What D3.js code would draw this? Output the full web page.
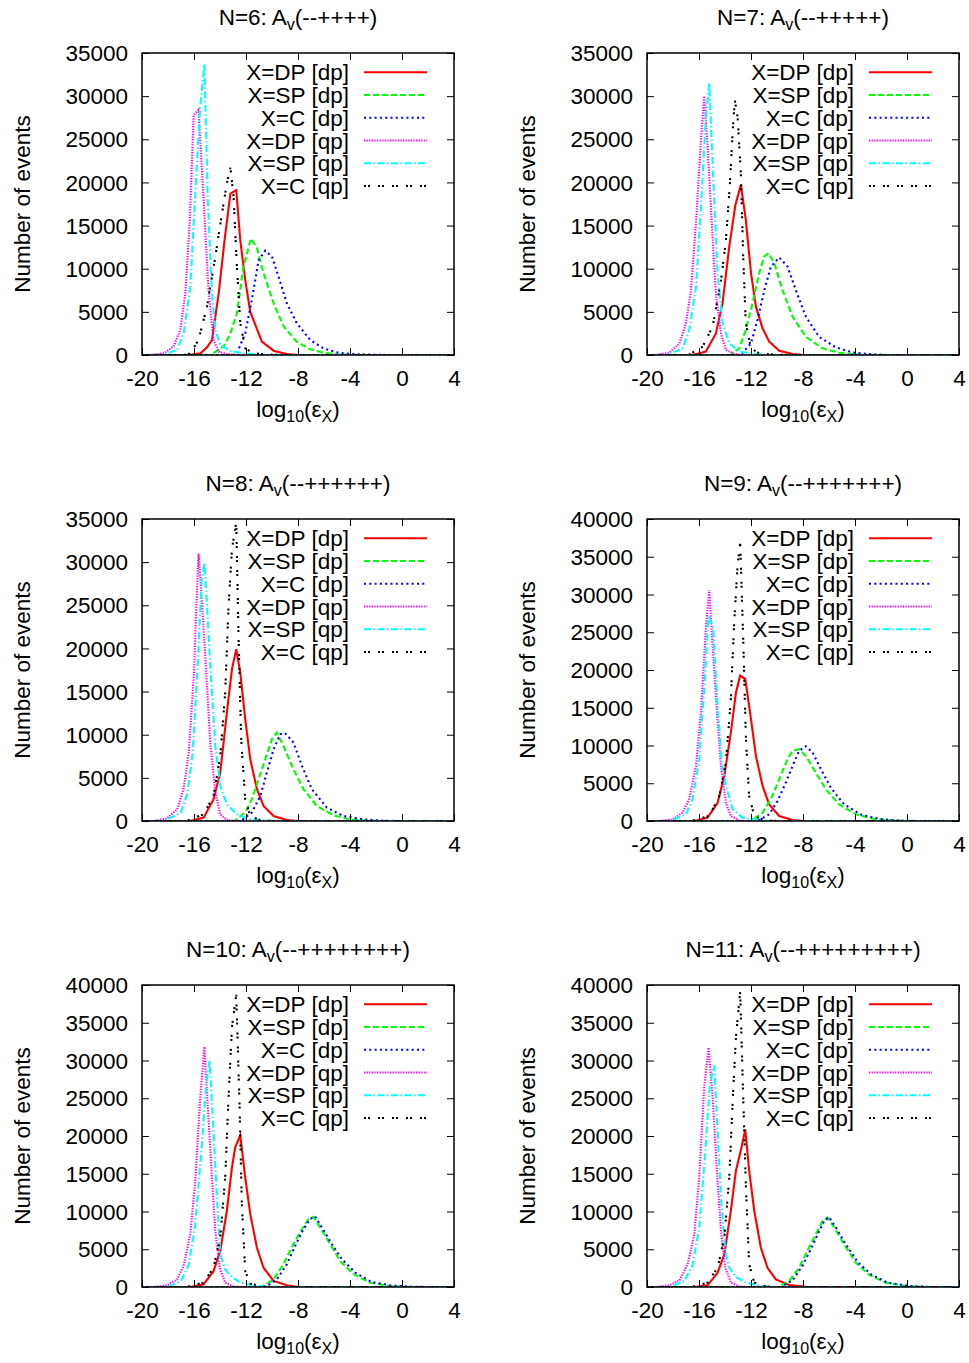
<!DOCTYPE html>
<html><head><meta charset="utf-8">
<script src="https://cdn.jsdelivr.net/npm/d3@7"></script>
<style>
body{margin:0;background:#fff}
svg{display:block}
text{font-family:"Liberation Sans",Arial,Helvetica,sans-serif;fill:#000}
</style>
</head><body>
<svg id="chart" width="969" height="1363"></svg>
<script>
// ---------- DATA ----------
const xTicks = [-20, -16, -12, -8, -4, 0, 4];
const yTicks35 = [0, 5000, 10000, 15000, 20000, 25000, 30000, 35000];
const yTicks40 = [0, 5000, 10000, 15000, 20000, 25000, 30000, 35000, 40000];
const seriesNames = ["X=DP [dp]", "X=SP [dp]", "X=C [dp]", "X=DP [qp]", "X=SP [qp]", "X=C [qp]"];

// N=6
const n6_DPdp = [[-20,0],[-16.5,0],[-15.5,200],[-15.0,900],[-14.62,1740],[-14.1,7150],[-13.65,13300],[-13.2,18700],[-12.75,19100],[-12.44,13300],[-12.06,8700],[-11.67,5000],[-10.78,1550],[-9.88,500],[-8.86,100],[-8,0],[4,0]];
const n6_SPdp = [[-20,0],[-14.75,0],[-13.7,1000],[-13.2,2500],[-12.7,4800],[-12.2,10200],[-11.62,13500],[-11.16,12400],[-10.65,9500],[-9.88,6000],[-9.1,3300],[-8.1,1550],[-7.06,650],[-6.04,270],[-5.0,80],[-4,0],[4,0]];
const n6_Cdp  = [[-20,0],[-13,0],[-12.7,200],[-12.06,2500],[-11.55,6400],[-11.03,11000],[-10.52,12100],[-10.0,11400],[-9.5,9100],[-8.86,6000],[-8.1,3700],[-7.06,1740],[-6.04,770],[-5.0,300],[-4.0,120],[-2.45,40],[-1,0],[4,0]];
const n6_DPqp = [[-20,0],[-19.36,0],[-18.3,200],[-17.57,1000],[-17.05,2900],[-16.67,7150],[-16.33,15300],[-16.03,27800],[-15.65,28400],[-15.26,18000],[-14.88,7500],[-14.5,1740],[-14.1,400],[-13.47,80],[-12.5,0],[4,0]];
const n6_SPqp = [[-20,0],[-18.5,0],[-17.3,580],[-16.8,2500],[-16.28,7900],[-15.9,18750],[-15.52,28800],[-15.2,33700],[-14.95,18400],[-14.62,7150],[-14.36,2900],[-13.98,1160],[-13.2,500],[-12.2,190],[-10.65,40],[-9.5,0],[4,0]];
const n6_Cqp  = [[-20,0],[-16.8,0],[-16.28,200],[-15.65,1740],[-15.0,5600],[-14.36,11400],[-13.85,16400],[-13.47,19900],[-13.2,21700],[-12.96,18400],[-12.7,10250],[-12.44,3700],[-12.06,770],[-11.42,190],[-10.14,40],[-9,0],[4,0]];

// N=7
const n7_DPdp = [[-20,0],[-16.5,0],[-15.47,400],[-14.7,2500],[-14.19,6000],[-13.67,12600],[-13.2,17400],[-12.78,19700],[-12.4,15700],[-12.0,9500],[-11.62,5600],[-11.11,3100],[-10.6,1550],[-9.83,500],[-8.8,120],[-8,0],[4,0]];
const n7_SPdp = [[-20,0],[-13.6,0],[-12.9,770],[-12.4,2900],[-11.88,6000],[-11.37,9500],[-10.98,11400],[-10.65,11800],[-10.2,10600],[-9.57,7500],[-8.8,4450],[-7.78,2100],[-6.5,770],[-5.22,270],[-3.94,80],[-3,0],[4,0]];
const n7_Cdp  = [[-20,0],[-12.8,0],[-12.0,1350],[-11.5,4060],[-10.98,7500],[-10.47,10250],[-9.83,11300],[-9.19,10250],[-8.55,7500],[-7.78,4450],[-6.76,2100],[-5.48,890],[-4.2,300],[-2.66,80],[-1.5,0],[4,0]];
const n7_DPqp = [[-20,0],[-19.3,0],[-18.28,270],[-17.5,1350],[-17.0,3700],[-16.62,7500],[-16.23,15300],[-15.85,24900],[-15.6,30000],[-15.34,24200],[-15.0,14900],[-14.7,7150],[-14.31,2500],[-13.93,580],[-13.16,80],[-12.5,0],[4,0]];
const n7_SPqp = [[-20,0],[-18.5,0],[-17.26,770],[-16.75,2900],[-16.23,7900],[-15.85,17200],[-15.47,27600],[-15.21,31500],[-14.9,20300],[-14.57,9500],[-14.19,3700],[-13.67,1350],[-12.9,390],[-11.62,120],[-10.5,0],[4,0]];
const n7_Cqp  = [[-20,0],[-16.8,0],[-15.72,970],[-14.95,3300],[-14.3,8700],[-13.93,13300],[-13.62,19900],[-13.37,26900],[-13.24,29500],[-13.03,27600],[-12.78,21000],[-12.6,11400],[-12.4,3700],[-12.0,770],[-11.37,190],[-10.1,30],[-9,0],[4,0]];

// N=8
const n8_DPdp = [[-20,0],[-16.3,0],[-15.26,390],[-14.5,2500],[-13.98,5600],[-13.47,12600],[-13.08,17600],[-12.75,19900],[-12.44,17200],[-12.06,11800],[-11.67,7150],[-11.16,3700],[-10.65,1740],[-9.88,580],[-8.86,120],[-8,0],[4,0]];
const n8_SPdp = [[-20,0],[-12.9,0],[-12.06,970],[-11.55,2500],[-11.03,4850],[-10.52,7150],[-10.0,9500],[-9.63,10250],[-9.12,8700],[-8.35,6000],[-7.58,3700],[-6.55,1740],[-5.27,660],[-3.99,190],[-2.45,30],[-1.5,0],[4,0]];
const n8_Cdp  = [[-20,0],[-12.4,0],[-11.55,970],[-10.9,2900],[-10.4,5600],[-9.88,8300],[-9.37,10050],[-9.0,10200],[-8.35,9100],[-7.7,6400],[-6.94,3700],[-5.78,1550],[-4.5,580],[-2.97,190],[-1.43,30],[0,0],[4,0]];
const n8_DPqp = [[-20,0],[-19.1,0],[-18.1,270],[-17.3,1350],[-16.8,3700],[-16.4,7900],[-16.0,17200],[-15.8,25700],[-15.65,31000],[-15.4,25700],[-15.06,17200],[-14.75,9100],[-14.36,3300],[-13.98,770],[-13.47,120],[-12.8,0],[4,0]];
const n8_SPqp = [[-20,0],[-18.3,0],[-17.0,970],[-16.5,3300],[-16.1,7900],[-15.72,18000],[-15.4,28000],[-15.2,29900],[-15.0,25000],[-14.75,18000],[-14.36,8700],[-13.98,4060],[-13.47,1930],[-12.7,770],[-11.67,190],[-10.14,30],[-9,0],[4,0]];
const n8_Cqp  = [[-20,0],[-16.6,0],[-15.26,770],[-14.5,2900],[-13.98,7500],[-13.6,14900],[-13.34,25000],[-13.08,31500],[-12.75,34600],[-12.57,21100],[-12.37,9500],[-12.06,2500],[-11.67,580],[-10.9,80],[-10,0],[4,0]];

// N=9
const n9_DPdp = [[-20,0],[-16.36,0],[-15.34,440],[-14.57,2400],[-14.05,6000],[-13.55,11700],[-13.16,17000],[-12.83,19260],[-12.44,18800],[-12.0,13500],[-11.62,8600],[-11.11,4650],[-10.6,2200],[-9.83,660],[-8.8,130],[-8,0],[4,0]];
const n9_SPdp = [[-20,0],[-12,0],[-11.11,1100],[-10.47,2900],[-9.83,5500],[-9.19,8200],[-8.8,9300],[-8.3,9500],[-7.78,8600],[-7.01,6400],[-6.24,4200],[-5.22,2200],[-3.94,890],[-2.66,310],[-1.12,90],[0,0],[4,0]];
const n9_Cdp  = [[-20,0],[-11.5,0],[-10.6,890],[-9.96,2650],[-9.32,5100],[-8.8,7300],[-8.3,9300],[-7.78,9900],[-7.27,9100],[-6.63,6900],[-5.86,4400],[-4.84,2200],[-3.43,750],[-1.89,220],[-0.35,40],[1,0],[4,0]];
const n9_DPqp = [[-20,0],[-19.05,0],[-18.03,220],[-17.26,1100],[-16.75,2900],[-16.23,7300],[-15.85,14400],[-15.47,25500],[-15.21,30600],[-14.95,23200],[-14.62,14400],[-14.31,7300],[-13.93,2400],[-13.55,660],[-12.9,50],[-12.3,0],[4,0]];
const n9_SPqp = [[-20,0],[-18.3,0],[-17.0,890],[-16.5,2900],[-15.98,8200],[-15.6,17500],[-15.26,27200],[-14.9,25500],[-14.57,15300],[-14.24,7750],[-13.93,4650],[-13.42,1550],[-12.65,440],[-11.37,90],[-10.5,0],[4,0]];
const n9_Cqp  = [[-20,0],[-16.6,0],[-15.21,660],[-14.44,3300],[-13.93,7750],[-13.55,16200],[-13.29,26400],[-13.03,33900],[-12.83,36800],[-12.6,24100],[-12.39,10850],[-12.14,3300],[-11.75,660],[-10.98,90],[-10,0],[4,0]];

// N=10
const n10_DPdp = [[-20,0],[-16.3,0],[-15.26,350],[-14.5,2100],[-13.98,4800],[-13.47,10100],[-13.08,15850],[-12.83,18500],[-12.44,20060],[-12.06,14500],[-11.67,9650],[-11.16,5200],[-10.65,2550],[-9.88,800],[-8.86,220],[-8.1,30],[-7.5,0],[4,0]];
const n10_SPdp = [[-20,0],[-10.8,0],[-9.88,1000],[-9.12,3000],[-8.35,5700],[-7.7,7650],[-7.19,9000],[-6.81,9300],[-6.3,7900],[-5.53,5700],[-4.76,3450],[-3.73,1700],[-2.45,580],[-0.92,130],[0.5,0],[4,0]];
const n10_Cdp  = [[-20,0],[-10.5,0],[-9.63,1000],[-8.86,3000],[-8.22,5450],[-7.58,7650],[-7.06,9000],[-6.68,9350],[-6.17,7900],[-5.4,5700],[-4.63,3700],[-3.6,1900],[-2.33,660],[-0.79,180],[0.88,30],[2,0],[4,0]];
const n10_DPqp = [[-20,0],[-19.1,0],[-18.08,220],[-17.3,1000],[-16.8,2800],[-16.28,7000],[-15.9,14100],[-15.52,25150],[-15.2,31800],[-14.95,24300],[-14.62,14500],[-14.36,7450],[-14.03,2550],[-13.6,580],[-12.96,50],[-12.3,0],[4,0]];
const n10_SPqp = [[-20,0],[-18.0,0],[-17.0,800],[-16.4,3000],[-15.9,8300],[-15.47,17200],[-15.06,26900],[-14.8,30000],[-14.5,20700],[-14.24,11900],[-13.98,4300],[-13.6,2350],[-13.2,1460],[-12.44,580],[-11.42,180],[-10.14,30],[-9,0],[4,0]];
const n10_Cqp  = [[-20,0],[-16.6,0],[-15.26,580],[-14.5,2550],[-13.98,6550],[-13.6,14500],[-13.34,25150],[-13.08,34450],[-12.75,38700],[-12.5,24300],[-12.32,11000],[-12.06,2100],[-11.67,440],[-10.65,50],[-9.8,0],[4,0]];

// N=11
const n11_DPdp = [[-20,0],[-16.36,0],[-15.34,220],[-14.57,1900],[-14.05,4350],[-13.55,10100],[-13.16,15400],[-12.78,18100],[-12.44,20850],[-12.14,15400],[-11.75,10100],[-11.24,5200],[-10.73,2550],[-10.09,1000],[-9.06,260],[-7.78,20],[-7,0],[4,0]];
const n11_SPdp = [[-20,0],[-9.9,0],[-9.06,800],[-8.3,2550],[-7.66,4800],[-7.01,7000],[-6.5,8750],[-6.12,9200],[-5.6,7900],[-4.84,5650],[-3.94,3250],[-2.91,1600],[-1.63,580],[-0.1,130],[1.5,0],[4,0]];
const n11_Cdp  = [[-20,0],[-9.7,0],[-8.8,890],[-8.04,2800],[-7.4,5000],[-6.81,7200],[-6.37,8750],[-5.99,9250],[-5.48,7900],[-4.71,5650],[-3.81,3350],[-2.79,1700],[-1.5,580],[0.16,130],[1.8,0],[4,0]];
const n11_DPqp = [[-20,0],[-19.3,0],[-18.28,220],[-17.5,890],[-16.88,3000],[-16.36,7000],[-15.98,14500],[-15.6,26500],[-15.26,31700],[-14.95,25150],[-14.62,15400],[-14.31,7450],[-13.98,2550],[-13.55,580],[-12.9,50],[-12.3,0],[4,0]];
const n11_SPqp = [[-20,0],[-18.2,0],[-17.13,800],[-16.5,2800],[-15.98,7900],[-15.55,17200],[-15.16,26900],[-14.83,29350],[-14.57,20700],[-14.31,11900],[-13.98,4800],[-13.67,2550],[-13.16,1330],[-12.39,580],[-11.37,180],[-10.2,0],[4,0]];
const n11_Cqp  = [[-20,0],[-16.6,0],[-15.34,580],[-14.57,2550],[-14.05,6550],[-13.67,14500],[-13.42,24300],[-13.16,33100],[-12.83,39100],[-12.6,25150],[-12.39,13200],[-12.14,3000],[-11.75,580],[-10.85,90],[-10,0],[4,0]];

const panels = [
  {N:6,  signs:"--++++",     yMax:35000, yTicks:yTicks35, series:[n6_DPdp,n6_SPdp,n6_Cdp,n6_DPqp,n6_SPqp,n6_Cqp]},
  {N:7,  signs:"--+++++",    yMax:35000, yTicks:yTicks35, series:[n7_DPdp,n7_SPdp,n7_Cdp,n7_DPqp,n7_SPqp,n7_Cqp]},
  {N:8,  signs:"--++++++",   yMax:35000, yTicks:yTicks35, series:[n8_DPdp,n8_SPdp,n8_Cdp,n8_DPqp,n8_SPqp,n8_Cqp]},
  {N:9,  signs:"--+++++++",  yMax:40000, yTicks:yTicks40, series:[n9_DPdp,n9_SPdp,n9_Cdp,n9_DPqp,n9_SPqp,n9_Cqp]},
  {N:10, signs:"--++++++++", yMax:40000, yTicks:yTicks40, series:[n10_DPdp,n10_SPdp,n10_Cdp,n10_DPqp,n10_SPqp,n10_Cqp]},
  {N:11, signs:"--+++++++++",yMax:40000, yTicks:yTicks40, series:[n11_DPdp,n11_SPdp,n11_Cdp,n11_DPqp,n11_SPqp,n11_Cqp]}
];

// ---------- STYLE / LAYOUT ----------
const styles = [
  {color:"#ff0000", dash:null},
  {color:"#00ff00", dash:"6,3"},
  {color:"#0000ff", dash:"2,3.3"},
  {color:"#ff00ff", dash:"1.3,1.3"},
  {color:"#00ffff", dash:"7,2.5,1.5,2.5"},
  {color:"#000000", dash:"2,2,2,8"}
];
const colX = [142, 647];
const rowY = [53, 519, 985];
const W = 312, H = 302;
const FS = 22.5;

const svg = d3.select("#chart");

panels.forEach((p, i) => {
  const x0 = colX[i % 2], y0 = rowY[Math.floor(i / 2)];
  const g = svg.append("g").attr("transform", `translate(${x0},${y0})`);
  const x = d3.scaleLinear().domain([-20, 4]).range([0, W]);
  const y = d3.scaleLinear().domain([0, p.yMax]).range([H, 0]);

  const clipId = "clip" + i;
  g.append("clipPath").attr("id", clipId).append("rect").attr("width", W).attr("height", H);

  // curves
  const line = d3.line().x(d => x(d[0])).y(d => y(d[1]));
  const curves = g.append("g").attr("clip-path", `url(#${clipId})`);
  p.series.forEach((s, k) => {
    curves.append("path").datum(s).attr("d", line)
      .attr("fill", "none").attr("stroke", styles[k].color)
      .attr("stroke-width", 2.1).attr("stroke-linejoin", "miter")
      .attr("stroke-dasharray", styles[k].dash);
  });

  // axes (inside ticks, mirrored)
  const ax = (a) => a.selectAll(".domain").remove();
  const bottom = g.append("g").attr("transform", `translate(0,${H})`)
    .call(d3.axisBottom(x).tickValues(xTicks).tickSize(-7).tickPadding(15).tickFormat(d3.format("d")));
  ax(bottom);
  const top = g.append("g").call(d3.axisTop(x).tickValues(xTicks).tickSize(-7).tickFormat(""));
  ax(top);
  const left = g.append("g")
    .call(d3.axisLeft(y).tickValues(p.yTicks).tickSize(-7).tickPadding(14).tickFormat(d3.format("d")));
  ax(left);
  const right = g.append("g").attr("transform", `translate(${W},0)`)
    .call(d3.axisRight(y).tickValues(p.yTicks).tickSize(-7).tickFormat(""));
  ax(right);
  g.selectAll(".tick line").attr("stroke", "#000").attr("stroke-width", 1);
  g.selectAll(".tick text").attr("font-size", FS).attr("font-family", '"Liberation Sans",Arial,sans-serif').attr("fill", "#000");
  left.selectAll(".tick text").attr("dy", "0.34em");
  bottom.selectAll(".tick text").attr("dy", "0.71em");
  // use a plain hyphen for negative numbers as in the original
  g.selectAll(".tick text").text(function(){ return this.textContent.replace("\u2212", "-"); });

  // frame
  g.append("rect").attr("width", W).attr("height", H)
    .attr("fill", "none").attr("stroke", "#000").attr("stroke-width", 1.5);

  // legend
  const lg = g.append("g");
  seriesNames.forEach((name, k) => {
    const ly = 19.3 + k * 22.75;
    lg.append("text").attr("x", 207).attr("y", ly + 8).attr("text-anchor", "end")
      .attr("font-size", FS).text(name);
    lg.append("line").attr("x1", 222).attr("x2", 285).attr("y1", ly).attr("y2", ly)
      .attr("stroke", styles[k].color).attr("stroke-width", 2)
      .attr("stroke-dasharray", styles[k].dash);
  });

  // title
  const t = g.append("text").attr("x", W / 2).attr("y", -28).attr("text-anchor", "middle").attr("font-size", FS);
  t.append("tspan").text(`N=${p.N}: A`);
  t.append("tspan").attr("dy", 5).attr("font-size", 16).text("v");
  t.append("tspan").attr("dy", -5).text(`(${p.signs})`);

  // x label
  const xl = g.append("text").attr("x", W / 2).attr("y", H + 62).attr("text-anchor", "middle").attr("font-size", FS);
  xl.append("tspan").text("log");
  xl.append("tspan").attr("dy", 5).attr("font-size", 16).text("10");
  xl.append("tspan").attr("dy", -5).text("(ε");
  xl.append("tspan").attr("dy", 5).attr("font-size", 16).text("X");
  xl.append("tspan").attr("dy", -5).text(")");

  // y label
  g.append("text").attr("transform", `translate(-112.5,${H / 2}) rotate(-90)`)
    .attr("text-anchor", "middle").attr("font-size", FS).text("Number of events");
});
</script>
</body></html>
